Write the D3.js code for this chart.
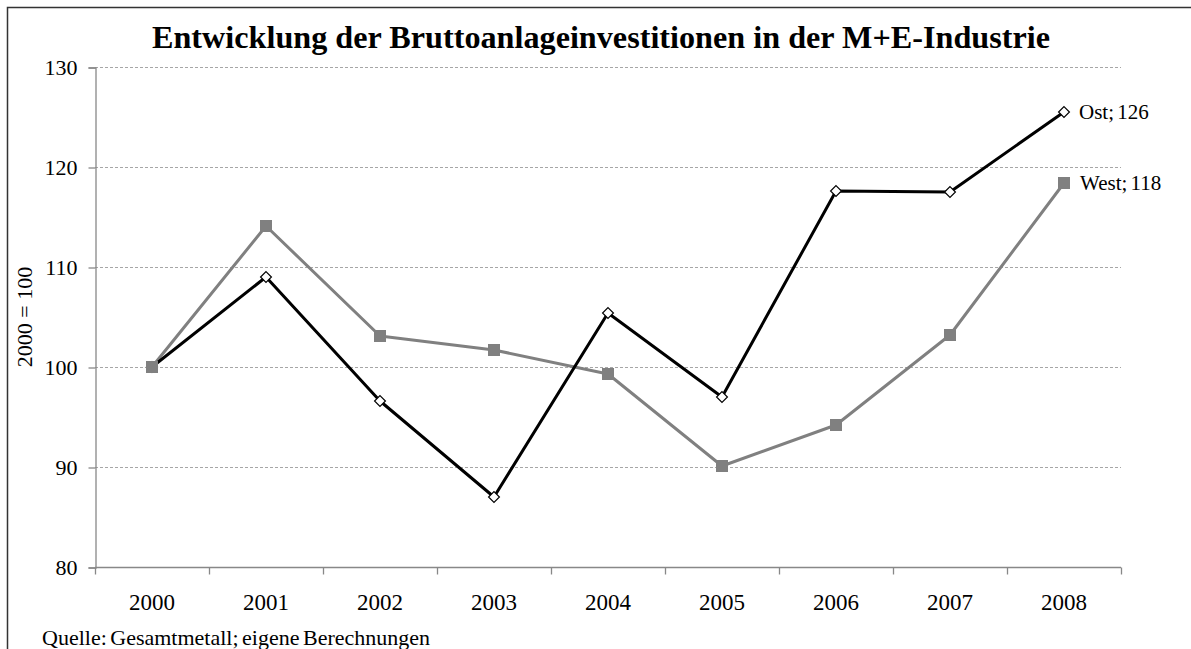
<!DOCTYPE html>
<html>

<head>
    <meta charset="utf-8">
    <style type="text/css">
        body {
            margin: 0;
            background: #fff;
        }

        text {
            font-family: "Liberation Serif", "Times New Roman", serif;
            fill: #000;
        }

        .grid line {
            stroke: #a6a6a6;
            stroke-dasharray: 3, 2;
        }

        .axis path,
        .axis line {
            stroke: #888;
            stroke-width: 1.3;
        }
    </style>
</head>

<body>
    <div id="canvas"></div>

    <script type="text/javascript" src="https://cdn.jsdelivr.net/npm/d3@7"></script>
    <script type="text/javascript">
        var years = ['2000', '2001', '2002', '2003', '2004', '2005', '2006', '2007', '2008'];
        var ost = [100, 109.0, 96.6, 87.0, 105.4, 97.0, 117.6, 117.5, 125.5];
        var west = [100, 114.1, 103.1, 101.7, 99.3, 90.1, 94.2, 103.2, 118.4];
        var yTicks = [80, 90, 100, 110, 120, 130];
        var title = 'Entwicklung der Bruttoanlageinvestitionen in der M+E-Industrie';
        var yTitle = '2000 = 100';
        var source = 'Quelle: Gesamtmetall; eigene Berechnungen';

        (function () {
            var width = 1191,
                height = 649,
                left = 95,
                right = 1121,
                top = 67,
                bottom = 567;

            var svg = d3.select('#canvas').append('svg')
                .attr('width', width)
                .attr('height', height);

            // outer frame (right/bottom edges are cut off in the original)
            svg.append('rect')
                .attr('x', 7.5).attr('y', 7.5)
                .attr('width', 1300).attr('height', 800)
                .attr('fill', 'none')
                .attr('stroke', '#333')
                .attr('stroke-width', 1.5);

            var x = d3.scaleBand().domain(years).range([left, right]);
            var y = d3.scaleLinear().domain([80, 130]).range([bottom, top]);

            // gridlines
            svg.append('g').attr('class', 'grid')
                .selectAll('line')
                .data(yTicks.slice(1))
                .enter().append('line')
                .attr('x1', left).attr('x2', right)
                .attr('y1', function (d) { return y(d) + 0.5; })
                .attr('y2', function (d) { return y(d) + 0.5; });

            // y axis
            var yAxis = svg.append('g').attr('class', 'axis')
                .attr('transform', 'translate(' + (left + 0.5) + ',0.5)')
                .call(d3.axisLeft(y).tickValues(yTicks).tickSize(7).tickPadding(11));
            yAxis.selectAll('text').style('font-size', '22px').attr('dy', '0.34em');

            // x axis with ticks between categories
            var xAxis = svg.append('g').attr('class', 'axis')
                .attr('transform', 'translate(0,' + (bottom + 0.5) + ')');
            xAxis.append('line')
                .attr('x1', left).attr('x2', right);
            xAxis.selectAll('line.tick')
                .data(years.concat(['end']))
                .enter().append('line')
                .attr('class', 'tick')
                .attr('x1', function (d, i) { return left + i * x.bandwidth() + 0.5; })
                .attr('x2', function (d, i) { return left + i * x.bandwidth() + 0.5; })
                .attr('y1', 0).attr('y2', 7);
            xAxis.selectAll('text')
                .data(years)
                .enter().append('text')
                .attr('x', function (d) { return x(d) + x.bandwidth() / 2; })
                .attr('y', 42)
                .attr('text-anchor', 'middle')
                .style('font-size', '23px')
                .text(function (d) { return d; });

            var line = d3.line()
                .x(function (d, i) { return x(years[i]) + x.bandwidth() / 2; })
                .y(function (d) { return y(d); });

            // West line
            svg.append('path')
                .datum(west)
                .attr('d', line)
                .attr('fill', 'none')
                .attr('stroke', '#808080')
                .attr('stroke-width', 3)
                .attr('stroke-linejoin', 'round');

            // Ost line + markers
            svg.append('path')
                .datum(ost)
                .attr('d', line)
                .attr('fill', 'none')
                .attr('stroke', '#000')
                .attr('stroke-width', 3)
                .attr('stroke-linejoin', 'round');
            svg.selectAll('path.ost')
                .data(ost)
                .enter().append('path')
                .attr('class', 'ost')
                .attr('d', d3.symbol().type(d3.symbolDiamond2).size(75))
                .attr('transform', function (d, i) {
                    return 'translate(' + (x(years[i]) + x.bandwidth() / 2) + ',' + y(d) + ')';
                })
                .attr('fill', '#fff')
                .attr('stroke', '#000')
                .attr('stroke-width', 1.2);

            // West markers on top (covers the diamond at 2000)
            svg.selectAll('rect.west')
                .data(west)
                .enter().append('rect')
                .attr('class', 'west')
                .attr('x', function (d, i) { return x(years[i]) + x.bandwidth() / 2 - 6; })
                .attr('y', function (d) { return y(d) - 6; })
                .attr('width', 12).attr('height', 12)
                .attr('fill', '#808080');

            // end labels
            var lastX = x(years[years.length - 1]) + x.bandwidth() / 2;
            svg.append('text')
                .attr('x', lastX + 15)
                .attr('y', y(ost[ost.length - 1]) + 7)
                .style('font-size', '21px')
                .style('word-spacing', '-2px')
                .text('Ost; ' + Math.round(ost[ost.length - 1]));
            svg.append('text')
                .attr('x', lastX + 16)
                .attr('y', y(west[west.length - 1]) + 7)
                .style('font-size', '21px')
                .style('word-spacing', '-2px')
                .text('West; ' + Math.round(west[west.length - 1]));

            // titles
            svg.append('text')
                .attr('x', 152)
                .attr('y', 48)
                .attr('textLength', 898)
                .attr('lengthAdjust', 'spacingAndGlyphs')
                .style('font-size', '31px')
                .style('font-weight', 'bold')
                .text(title);

            svg.append('text')
                .attr('transform', 'translate(32,' + ((top + bottom) / 2) + ') rotate(-90)')
                .attr('text-anchor', 'middle')
                .style('font-size', '22px')
                .text(yTitle);

            svg.append('text')
                .attr('x', 42)
                .attr('y', 645)
                .style('font-size', '22px')
                .style('word-spacing', '-2px')
                .text(source);
        })();
    </script>
</body>

</html>
